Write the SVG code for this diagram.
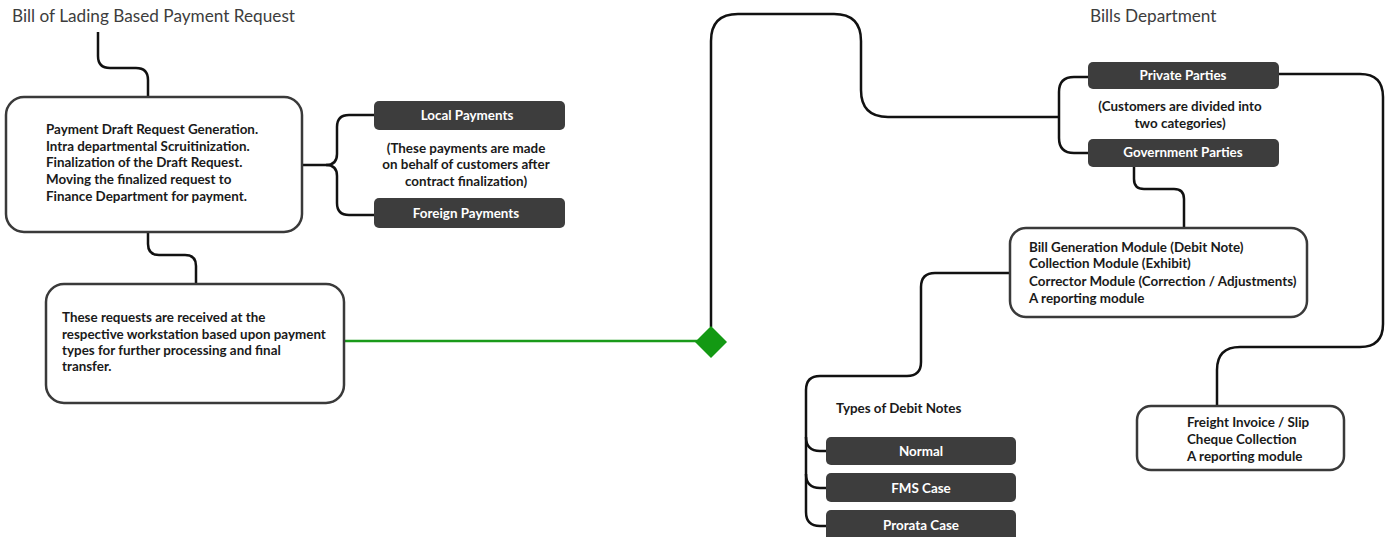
<svg xmlns="http://www.w3.org/2000/svg" width="1390" height="537" viewBox="0 0 1390 537">
<style>
.title{font-family:Lato,"Liberation Sans",sans-serif;font-size:17.2px;fill:#3d3d3d}
.t{font-family:Lato,"Liberation Sans",sans-serif;font-size:13.4px;font-weight:bold;fill:#1a1a1a}
.w{font-family:Lato,"Liberation Sans",sans-serif;font-size:13.4px;font-weight:bold;fill:#ffffff;text-anchor:middle}
.c{text-anchor:middle}
.box{fill:#ffffff;stroke:#3a3a3a;stroke-width:2.5}
.dark{fill:#3d3d3d}
.ln{fill:none;stroke:#111111;stroke-width:2.5}
.gr{fill:none;stroke:#1a9a1a;stroke-width:2.5}
</style>
<rect width="1390" height="537" fill="#ffffff"/>
<g id="connectors">
<path class="ln" d="M98,32 V56 Q98,68 110,68 H136 Q148,68 148,80 V97"/>
<path class="ln" d="M302,165 H326 Q337,165 337,154 V127 Q337,115 349,115 H374"/>
<path class="ln" d="M326,165 Q337,165 337,176 V203 Q337,215 349,215 H374"/>
<path class="ln" d="M148,232 V244 Q148,255 159,255 H185 Q196,255 196,266 V284"/>
<path class="gr" d="M344,341 H700"/>
<path class="ln" d="M711,327 V41 Q711,14 738,14 H834 Q861,14 861,41 V90 Q861,117 888,117 H1059"/>
<path class="ln" d="M1059,117 V92 Q1059,77 1074,77 H1088"/>
<path class="ln" d="M1059,117 V138 Q1059,153 1074,153 H1088"/>
<path class="ln" d="M1279,74 H1360 Q1383,74 1383,97 V324 Q1383,347 1360,347 H1240 Q1217,347 1217,370 V406"/>
<path class="ln" d="M1134,167 V179 Q1134,189 1144,189 H1174 Q1184,189 1184,199 V228"/>
<path class="ln" d="M1010,273 H935 Q921,273 921,287 V362 Q921,376 907,376 H820 Q806,376 806,390 V512 Q806,526 820,526 H826"/>
<path class="ln" d="M806,437 Q806,451 820,451 H826"/>
<path class="ln" d="M806,474 Q806,488 820,488 H826"/>
<polygon points="711,326 727,342 711,358 695,342" fill="#139913"/>
</g>
<g id="title-left"><text class="title" x="12" y="22">Bill of Lading Based Payment Request</text></g>
<g id="title-right"><text class="title" x="1090" y="22">Bills Department</text></g>
<g id="draft-request">
<rect class="box" x="6" y="97" width="296" height="135" rx="18"/>
<text class="t" x="46" y="134">Payment Draft Request Generation.</text>
<text class="t" x="46" y="151">Intra departmental Scruitinization.</text>
<text class="t" x="46" y="167">Finalization of the Draft Request.</text>
<text class="t" x="46" y="184">Moving the finalized request to</text>
<text class="t" x="46" y="201">Finance Department for payment.</text>
</g>
<g id="local-payments">
<rect class="dark" x="374" y="101" width="191" height="29" rx="5"/>
<text class="w" x="467" y="120">Local Payments</text>
</g>
<g id="payments-note">
<text class="t c" x="466" y="153">(These payments are made</text>
<text class="t c" x="466" y="169">on behalf of customers after</text>
<text class="t c" x="466" y="186">contract finalization)</text>
</g>
<g id="foreign-payments">
<rect class="dark" x="374" y="198" width="191" height="30" rx="5"/>
<text class="w" x="466" y="218">Foreign Payments</text>
</g>
<g id="workstation">
<rect class="box" x="46" y="284" width="298" height="119" rx="18"/>
<text class="t" x="62" y="322">These requests are received at the</text>
<text class="t" x="62" y="339">respective workstation based upon payment</text>
<text class="t" x="62" y="355">types for further processing and final</text>
<text class="t" x="62" y="371">transfer.</text>
</g>
<g id="private-parties">
<rect class="dark" x="1088" y="62" width="191" height="27" rx="5"/>
<text class="w" x="1183" y="80">Private Parties</text>
</g>
<g id="customers-note">
<text class="t c" x="1180" y="111">(Customers are divided into</text>
<text class="t c" x="1180" y="128">two categories)</text>
</g>
<g id="government-parties">
<rect class="dark" x="1088" y="139" width="191" height="28" rx="5"/>
<text class="w" x="1183" y="157">Government Parties</text>
</g>
<g id="modules">
<rect class="box" x="1010" y="228" width="297" height="89" rx="16"/>
<text class="t" x="1029" y="252">Bill Generation Module (Debit Note)</text>
<text class="t" x="1029" y="268">Collection Module (Exhibit)</text>
<text class="t" x="1029" y="286">Corrector Module (Correction / Adjustments)</text>
<text class="t" x="1029" y="303">A reporting module</text>
</g>
<g id="freight">
<rect class="box" x="1137" y="406" width="207" height="64" rx="14"/>
<text class="t" x="1187" y="427">Freight Invoice / Slip</text>
<text class="t" x="1187" y="444">Cheque Collection</text>
<text class="t" x="1187" y="461">A reporting module</text>
</g>
<g id="debit-types"><text class="t" x="836" y="413">Types of Debit Notes</text></g>
<g id="normal">
<rect class="dark" x="826" y="437" width="190" height="28" rx="5"/>
<text class="w" x="921" y="456">Normal</text>
</g>
<g id="fms">
<rect class="dark" x="826" y="473" width="190" height="29" rx="5"/>
<text class="w" x="921" y="493">FMS Case</text>
</g>
<g id="prorata">
<rect class="dark" x="826" y="510" width="190" height="32" rx="5"/>
<text class="w" x="921" y="530">Prorata Case</text>
</g>
</svg>
